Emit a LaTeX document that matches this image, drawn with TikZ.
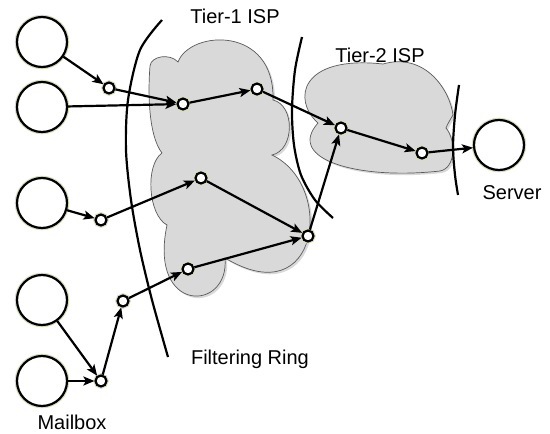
\documentclass[tikz,border=0pt]{standalone}
\usepackage{fontspec}
\setmainfont{Liberation Sans}
\usetikzlibrary{arrows.meta,shadows}
\definecolor{cloudgray}{RGB}{217,217,217}
\definecolor{cloudline}{RGB}{90,90,90}
\definecolor{glow}{RGB}{214,224,190}
\begin{document}
\begin{tikzpicture}[x=1pt,y=-1pt,
  hub/.style={circle,draw,line width=2.2pt,fill=white,minimum size=11pt,inner sep=0pt,
    preaction={draw=glow,line width=4.5pt}},
  host/.style={circle,draw,line width=2.2pt,fill=white,minimum size=50pt,inner sep=0pt,
    preaction={draw=glow,line width=4.5pt}},
  link/.style={line width=2.2pt,-{Stealth[length=11pt,width=9pt,inset=2.5pt]}},
  ring/.style={line width=2.2pt},
  isp/.style={fill=cloudgray,draw=cloudline,line width=0.7pt,
    drop shadow={shadow xshift=2pt,shadow yshift=-2pt,opacity=0.3}},
  lbl/.style={font=\fontsize{20}{23}\selectfont,anchor=base,inner sep=0pt}]
\useasboundingbox (0,0) rectangle (550,434);

% ISP clouds
\path[isp] (150,66) .. controls (151,56) and (170,53) .. (178,62)
  .. controls (190,30) and (275,25) .. (273,100)
  .. controls (295,105) and (295,150) .. (272,155)
  .. controls (335,185) and (320,315) .. (225,258)
  .. controls (230,312) and (148,315) .. (167,225)
  .. controls (148,215) and (145,165) .. (162,153)
  .. controls (148,135) and (148,90) .. cycle;
\path[isp] (318,123) .. controls (292,100) and (300,55) .. (383,64)
  .. controls (425,52) and (450,90) .. (453,115)
  .. controls (450,120) and (447,125) .. (446,128)
  .. controls (456,140) and (456,168) .. (440,171)
  .. controls (360,180) and (285,160) .. cycle;

% filtering and peering boundaries
\draw[ring] plot[smooth] coordinates {(162,20) (140,50) (128,100) (126,150) (131,200) (140,250) (152,300) (168,357)};
\draw[ring] plot[smooth] coordinates {(302,37) (295,70) (292,110) (294,145) (301,175) (315,200) (333,218)};
\draw[ring] plot[smooth] coordinates {(459,85) (455,115) (453,147) (455,175) (458,195)};

% end hosts
\node[host] (c1) at (42,42) {};
\node[host] (c2) at (42,107) {};
\node[host] (c3) at (42,203) {};
\node[host] (c4) at (42,300) {};
\node[host] (c5) at (42,381) {};
\node[host] (srv) at (499,145) {};

% routers
\node[hub] (n1) at (109,88) {};
\node[hub] (n2) at (183,104) {};
\node[hub] (n3) at (257,89) {};
\node[hub] (n4) at (201,178) {};
\node[hub] (n5) at (101,220) {};
\node[hub] (n6) at (188,269) {};
\node[hub] (n7) at (123,301) {};
\node[hub] (n8) at (101,381) {};
\node[hub] (n9) at (308,236) {};
\node[hub] (n10) at (341,128) {};
\node[hub] (n11) at (422,153) {};

% message paths
\draw[link] (c1) -- (n1);
\draw[link] (c2) -- (n2);
\draw[link] (n1) -- (n2);
\draw[link] (n2) -- (n3);
\draw[link] (n3) -- (n10);
\draw[link] (n10) -- (n11);
\draw[link] (n11) -- (srv);
\draw[link] (c3) -- (n5);
\draw[link] (n5) -- (n4);
\draw[link] (n4) -- (n9);
\draw[link] (n9) -- (n10);
\draw[link] (c4) -- (n8);
\draw[link] (c5) -- (n8);
\draw[link] (n8) -- (n7);
\draw[link] (n7) -- (n6);
\draw[link] (n6) -- (n9);

% labels
\node[lbl] (t1) at (235,23) {Tier-1 ISP};
\node[lbl] (t2) at (380,62) {Tier-2 ISP};
\node[lbl] (sv) at (512,199) {Server};
\node[lbl] (fr) at (250,364) {Filtering Ring};
\node[lbl] (mb) at (72,429) {Mailbox};
\end{tikzpicture}
\end{document}
